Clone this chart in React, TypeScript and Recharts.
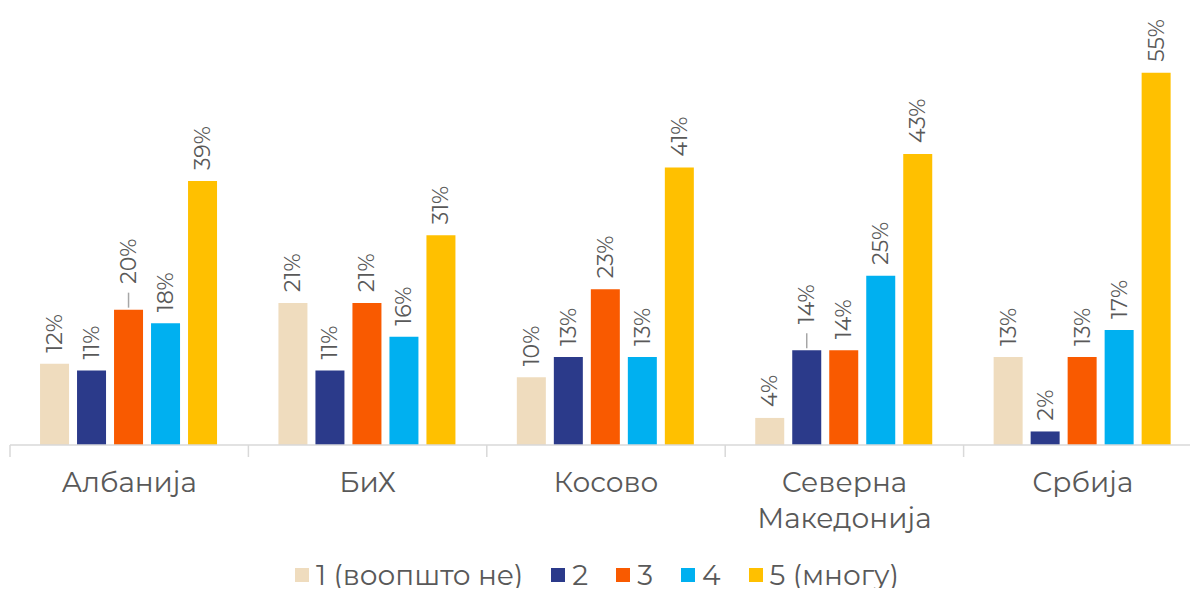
import { BarChart, Bar, XAxis, YAxis, Legend } from "recharts";

const categories = ["Албанија", "БиХ", "Косово", "Северна Македонија", "Србија"];
const seriesNames = ["1 (воопшто не)", "2", "3", "4", "5 (многу)"];
const s1 = [12, 21, 10, 4, 13];
const s2 = [11, 11, 13, 14, 2];
const s3 = [20, 21, 23, 14, 13];
const s4 = [18, 16, 13, 25, 17];
const s5 = [39, 31, 41, 43, 55];

const colors = ["#EFDCBE", "#2B3A8A", "#F95A00", "#00B0F0", "#FFC000"];
const keys = ["s1", "s2", "s3", "s4", "s5"];
// labels pushed up with a small leader line, as in the original
const leaderLabels: Record<string, number[]> = { s2: [3], s3: [0] };

const data = categories.map((name, i) => ({
  name,
  s1: s1[i],
  s2: s2[i],
  s3: s3[i],
  s4: s4[i],
  s5: s5[i],
}));

const W = 1198;
const H = 596;
const margin = { top: 39, right: -4, bottom: 0, left: 10 };
const band = (W - margin.left - margin.right) / categories.length;
const FONT = "'Montserrat', 'Noto Sans', sans-serif";
const GREY = "#595959";
const AXIS = "#D9D9D9";

const makeLabel = (key: string) => (props: any) => {
  const { x, y, width, value, index } = props;
  const lifted = (leaderLabels[key] || []).includes(index);
  const cx = x + width / 2;
  const off = lifted ? 26 : 11;
  return (
    <g>
      {lifted && (
        <line x1={cx} x2={cx} y1={y - 2} y2={y - 17} stroke="#A6A6A6" strokeWidth={1.5} />
      )}
      <text
        transform={`translate(${cx}, ${y - off}) rotate(-90)`}
        textAnchor="start"
        dominantBaseline="central"
        fontSize={22}
        fontFamily={FONT}
        fill={GREY}
      >
        {`${value}%`}
      </text>
    </g>
  );
};

const CategoryTick = (props: any) => {
  const { x, y, payload, index } = props;
  const left = x - band / 2;
  const lines = String(payload.value).split(" ");
  return (
    <g>
      <line x1={left} x2={left} y1={y} y2={y + 12} stroke={AXIS} strokeWidth={1.5} />
      {index === categories.length - 1 && (
        <line x1={left + band} x2={left + band} y1={y} y2={y + 12} stroke={AXIS} strokeWidth={1.5} />
      )}
      <text x={x} y={y + 47} textAnchor="middle" fontSize={28} fontFamily={FONT} fill={GREY}>
        {lines.map((w, i) => (
          <tspan key={w} x={x} dy={i === 0 ? 0 : 36}>
            {w}
          </tspan>
        ))}
      </text>
    </g>
  );
};

const LegendContent = () => (
  <div
    style={{
      display: "flex",
      justifyContent: "center",
      alignItems: "center",
      gap: 28,
      paddingTop: 6,
      lineHeight: "28px",
      fontFamily: FONT,
      fontSize: 28,
      color: GREY,
    }}
  >
    {seriesNames.map((n, i) => (
      <div key={n} style={{ display: "flex", alignItems: "center", gap: 7 }}>
        <span style={{ width: 14, height: 14, background: colors[i], display: "inline-block" }} />
        <span>{n}</span>
      </div>
    ))}
  </div>
);

export default function App() {
  return (
    <div style={{ margin: -8, width: W, height: H, background: "#fff", overflow: "hidden" }}>
      <BarChart
        width={W}
        height={H}
        data={data}
        margin={margin}
        barCategoryGap="12.6%"
        barGap={8}
      >
        <XAxis
          dataKey="name"
          interval={0}
          height={111}
          tickLine={false}
          tickSize={0}
          tickMargin={0}
          axisLine={{ stroke: AXIS, strokeWidth: 1.5 }}
          tick={<CategoryTick />}
        />
        <YAxis hide domain={[0, 60]} />
        <Legend
          verticalAlign="bottom"
          height={40}
          wrapperStyle={{ top: 555, bottom: "auto", left: 0, width: W - 4, height: 40 }}
          content={<LegendContent />}
        />
        {keys.map((k, i) => (
          <Bar
            key={k}
            dataKey={k}
            name={seriesNames[i]}
            fill={colors[i]}
            isAnimationActive={false}
            label={makeLabel(k)}
          />
        ))}
      </BarChart>
    </div>
  );
}
